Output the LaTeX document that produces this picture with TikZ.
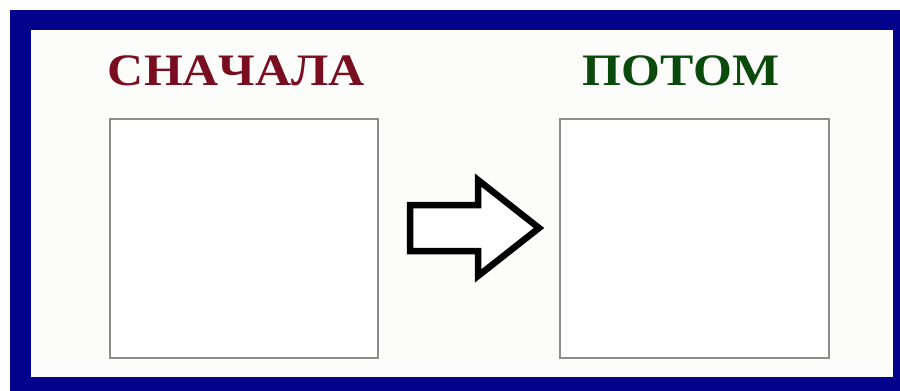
\documentclass[tikz,border=0pt]{standalone}
\usepackage{fontspec}
\setmainfont[Kerning=Off]{Liberation Serif}
\definecolor{frameblue}{RGB}{2,2,140}
\definecolor{darkred}{RGB}{120,14,32}
\definecolor{darkgreen}{RGB}{10,75,12}
\definecolor{paper}{RGB}{252,253,251}
\definecolor{boxgray}{RGB}{140,140,140}
\tikzset{
  title/.style={font=\fontsize{45}{45}\selectfont\bfseries, anchor=base, inner sep=0pt, xscale=1.11},
  picbox/.style={draw=boxgray, line width=1.5pt, fill=white},
  bigarrow/.style={draw=black, line width=6.5pt, line join=miter, fill=white}
}
\begin{document}
\begin{tikzpicture}[x=1pt,y=-1pt]
\useasboundingbox (0,0) rectangle (900,391);
\fill[white] (0,0) rectangle (900,391);
\fill[frameblue] (10,10) rectangle (900,391);
\fill[paper] (31,30) rectangle (893,377);
\node[title, text=darkred] (before) at (236.5,85) {СНАЧАЛА};
\node[title, text=darkgreen] (after) at (681,85) {ПОТОМ};
\draw[picbox] (110,119) rectangle (378,358);
\node[inner sep=0pt, minimum size=0pt] (leftbox) at (244,238) {};
\draw[picbox] (560,119) rectangle (829,358);
\node[inner sep=0pt, minimum size=0pt] (rightbox) at (694,238) {};
\draw[bigarrow] (410,205) -- (478,205) -- (478,180) -- (539,228) -- (478,276) -- (478,251) -- (410,251) -- cycle;
\end{tikzpicture}
\end{document}
